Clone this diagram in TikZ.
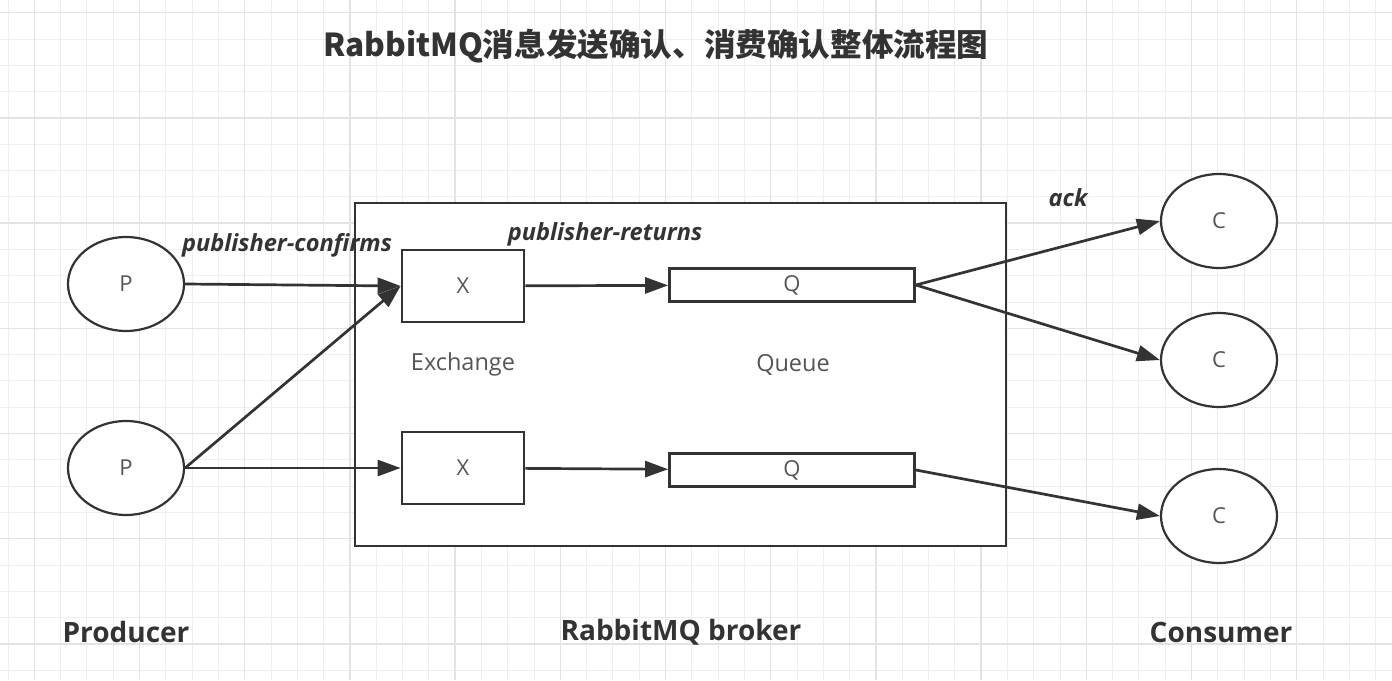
\documentclass[tikz,border=0pt]{standalone}
\usepackage{fontspec}
\setmainfont{Open Sans}
\newfontfamily\cjk{Noto Sans CJK SC}
\usetikzlibrary{arrows.meta}
\usetikzlibrary{positioning}
\usetikzlibrary{shapes.geometric}
\definecolor{ink}{HTML}{333333}
\definecolor{softink}{HTML}{555555}
\definecolor{gridminor}{HTML}{EEEEEE}
\definecolor{gridmajor}{HTML}{E3E3E3}
\tikzset {
  grid minor/.style = {
    draw = gridminor,
    line width = 1pt
  },
  grid major/.style = {
    draw = gridmajor,
    line width = 1.5pt
  },
  % path style with arrow at the end
  arr/.style = {
    draw = ink,
    line width = 2.7pt,
    -{Triangle[length = 23pt, width = 16pt]}
  }
}
\tikzset {
  box node/.style = {
    draw = ink,
    line width = 2.7pt,
    fill = white,
    text = softink,
    font = \fontsize{22}{26}\selectfont,
    inner sep = 0
  },
  % producer / consumer
  client/.style = {
    box node,
    ellipse,
    line width = 2.2pt,
    minimum width = 116pt,
    minimum height = 94pt
  },
  % exchange
  exch/.style = {
    box node,
    rectangle,
    minimum width = 122pt,
    minimum height = 72pt
  },
  % queue
  queue/.style = {
    box node,
    rectangle,
    minimum width = 245pt,
    minimum height = 33pt
  },
  caption/.style = {
    text = softink,
    font = \fontsize{23.5}{28}\selectfont
  },
  edge label/.style = {
    text = ink,
    font = \fontsize{23.6}{28}\selectfont\bfseries\itshape
  },
  side label/.style = {
    text = ink,
    font = \fontsize{28}{32}\selectfont\bfseries
  },
  node distance = 16pt
}

\begin{document}
\begin{tikzpicture}[x = 1pt, y = -1pt]
    \useasboundingbox (0,0) rectangle (1392,680);
    \fill[white] (0,0) rectangle (1392,680);

    % background grid
    \foreach \i in {0,...,52}
      \draw[grid minor] ({8+26.3*\i},0) -- ++(0,680);
    \foreach \j in {0,...,25}
      \draw[grid minor] (0,{12.7+26.3*\j}) -- ++(1392,0);
    \foreach \i in {0,...,12}
      \draw[grid major] ({34.3+105.2*\i},0) -- ++(0,680);
    \foreach \j in {0,...,6}
      \draw[grid major] (0,{12.7+105.2*\j}) -- ++(1392,0);

    \node[text = ink, font = \cjk\fontsize{31.6}{36}\selectfont\bfseries]
      (title) at (656,46) {RabbitMQ消息发送确认、消费确认整体流程图};

    \node[box node, rectangle, minimum width = 651pt, minimum height = 343pt]
      (broker) at (680.5,374.5) {};

    \node[client] (prod-1) at (126,284) {P};
    \node[client] (prod-2) at (126,468) {P};

    \node[exch] (exch-1) at (463,286) {X};
    \node[exch] (exch-2) at (463,468) {X};

    \node[queue] (queue-1) at (792,285) {Q};
    \node[queue] (queue-2) at (792,470) {Q};

    \node[client] (cons-1) at (1219,221) {C};
    \node[client] (cons-2) at (1219,360) {C};
    \node[client] (cons-3) at (1219,516) {C};

    \node[caption] (exch-name) at (463,364) {Exchange};
    \node[caption] (queue-name) at (793,365) {Queue};

    \node[edge label] (confirms) at (287,245) {publisher-confirms};
    \node[edge label] (returns) at (605,234) {publisher-returns};
    \node[edge label] (ack) at (1068,198) {ack};

    \node[side label] (producer) at (126,632) {Producer};
    \node[side label] (broker-name) at (681,632) {RabbitMQ broker};
    \node[side label] (consumer) at (1221,632) {Consumer};

    % publish
    \draw[arr] (prod-1.east) -- (exch-1.west);
    \draw[arr] (prod-2.east) -- (exch-1.west);
    \draw[arr] (prod-2.east) -- (exch-2.west);

    % route
    \draw[arr] (exch-1) -- (queue-1);
    \draw[arr] (exch-2) -- (queue-2);

    % consume
    \draw[arr] (queue-1.east) -- (cons-1.west);
    \draw[arr] (queue-1.east) -- (cons-2.west);
    \draw[arr] (queue-2.east) -- (cons-3.west);
\end{tikzpicture}
\end{document}
